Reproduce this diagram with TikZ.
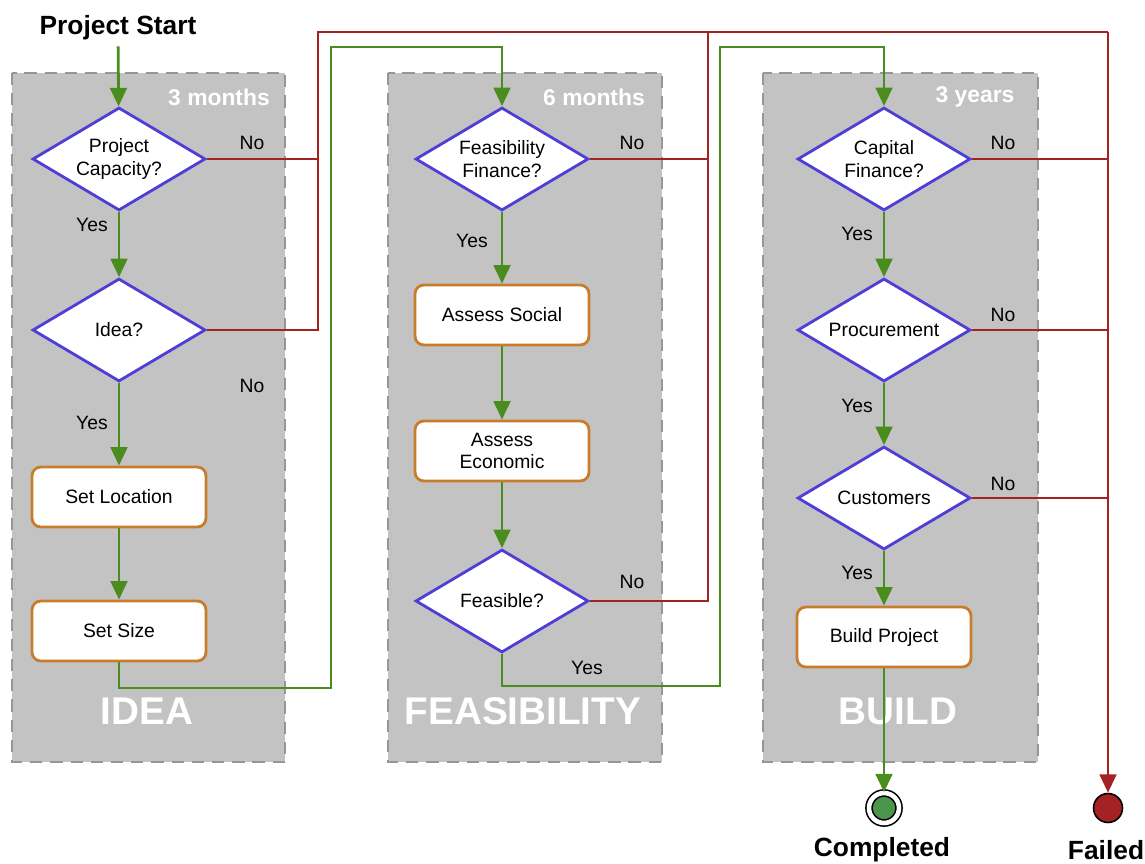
\documentclass[tikz,border=0pt]{standalone}
\usepackage{fontspec}
\setmainfont{Liberation Sans}
\usetikzlibrary{positioning, shapes.geometric, arrows.meta}

\definecolor{flowgreen}{RGB}{74,140,30}
\definecolor{flowred}{RGB}{165,34,34}
\definecolor{flowblue}{RGB}{78,62,215}
\definecolor{floworange}{RGB}{200,125,45}
\definecolor{stagegray}{RGB}{195,195,195}
\definecolor{dashgray}{RGB}{150,150,150}
\definecolor{donegreen}{RGB}{76,150,76}

\tikzset{
    decision/.style={diamond, draw=flowblue, line width=1.6pt, fill=white, aspect=1.68,
        minimum width=3.46cm, minimum height=2.06cm, inner sep=0pt, align=center,
        font=\fontsize{11}{13}\selectfont},
    task/.style={rectangle, rounded corners=5pt, draw=floworange, line width=1.6pt, fill=white,
        minimum width=3.48cm, minimum height=1.2cm, align=center, font=\fontsize{11}{13}\selectfont},
    yes/.style={draw=flowgreen, line width=1.6pt, -{Triangle[length=10.5pt,width=9.5pt]}},
    no/.style={draw=flowred, line width=1.6pt},
    lbl/.style={font=\fontsize{11}{13}\selectfont},
    stage/.style={fill=stagegray, draw=dashgray, line width=1.5pt, dash pattern=on 7pt off 4.5pt},
    stagetime/.style={text=white, font=\fontsize{13}{15}\bfseries},
    stagename/.style={text=white, font=\fontsize{22}{26}\bfseries},
    endlbl/.style={font=\fontsize{15}{18}\bfseries}
}

\begin{document}
\begin{tikzpicture}[x=0.02cm, y=-0.02cm]
    \useasboundingbox (0,0) rectangle (1145,864);

    % stages
    \draw[stage] (12,73) rectangle (285,762);
    \draw[stage] (388,73) rectangle (662,762);
    \draw[stage] (763,73) rectangle (1038,762);
    \node[stagetime] (ideatime) at (219,97) {3 months};
    \node[stagetime] (feastime) at (594,97) {6 months};
    \node[stagetime] (buildtime) at (975,97) {3 years};
    \node[stagename] (ideaname) at (147,711) {IDEA};
    \node[stagename] (feasname) at (523,711) {FEASIBILITY};
    \node[stagename] (buildname) at (898,711) {BUILD};

    % idea
    \node[endlbl] (start) at (118,28) {Project Start};
    \node[decision] (capacity) at (119,159) {Project\\Capacity?};
    \node[decision] (idea) at (119,330) {Idea?};
    \node[task] (location) at (119,497) {Set Location};
    \node[task] (size) at (119,631) {Set Size};

    % feasibility
    \node[decision] (feasfin) at (502,159) {Feasibility\\Finance?};
    \node[task] (social) at (502,315) {Assess Social};
    \node[task] (economic) at (502,451) {Assess\\Economic};
    \node[decision] (feasible) at (502,601) {Feasible?};

    % build
    \node[decision] (capfin) at (884,159) {Capital\\Finance?};
    \node[decision] (procure) at (884,330) {Procurement};
    \node[decision] (customers) at (884,498) {Customers};
    \node[task] (buildproj) at (884,637) {Build Project};

    % end states
    \node[circle, draw=black, line width=0.9pt, double=white, double distance=2.6pt,
        fill=donegreen, minimum size=0.6cm, inner sep=0pt] (done) at (884,808) {};
    \node[circle, draw=black, line width=0.9pt, fill=flowred, minimum size=0.58cm,
        inner sep=0pt] (fail) at (1108,808) {};
    \node[endlbl] (donelbl) at (882,850) {Completed};
    \node[endlbl] (faillbl) at (1106,850) {Failed};

    \coordinate (idealoop) at (331,688);
    \coordinate (ideatop) at (331,47);
    \coordinate (feasloop) at (720,686);
    \coordinate (feastop) at (720,47);
    \coordinate (redA) at (318,32);
    \coordinate (redB) at (708,32);
    \coordinate (redC) at (1108,32);

    % yes path
    \draw[yes] (start) -- (capacity);
    \draw[yes] (capacity) -- (idea);
    \draw[yes] (idea) -- (location);
    \draw[yes] (location) -- (size);
    \draw[yes] (size) |- (idealoop) -- (ideatop) -| (feasfin);
    \draw[yes] (feasfin) -- (social);
    \draw[yes] (social) -- (economic);
    \draw[yes] (economic) -- (feasible);
    \draw[yes] (feasible) |- (feasloop) -- (feastop) -| (capfin);
    \draw[yes] (capfin) -- (procure);
    \draw[yes] (procure) -- (customers);
    \draw[yes] (customers) -- (buildproj);
    \draw[yes] (buildproj) -- (done);

    % no path
    \draw[no] (capacity.east) -- (capacity.east -| redA);
    \draw[no] (idea.east) -| (redA) -- (redC);
    \draw[no] (feasfin.east) -- (feasfin.east -| redB);
    \draw[no] (feasible.east) -| (redB);
    \draw[no] (capfin.east) -- (capfin.east -| redC);
    \draw[no] (procure.east) -- (procure.east -| redC);
    \draw[no] (customers.east) -- (customers.east -| redC);
    \draw[no, -{Triangle[length=10.5pt,width=9.5pt]}] (redC) -- (fail);

    % labels
    \node[lbl] (yes1) at (92,225) {Yes};
    \node[lbl] (yes2) at (92,423) {Yes};
    \node[lbl] (yes3) at (472,241) {Yes};
    \node[lbl] (yes4) at (587,668) {Yes};
    \node[lbl] (yes5) at (857,234) {Yes};
    \node[lbl] (yes6) at (857,406) {Yes};
    \node[lbl] (yes7) at (857,573) {Yes};
    \node[lbl] (no1) at (252,143) {No};
    \node[lbl] (no2) at (252,386) {No};
    \node[lbl] (no3) at (632,143) {No};
    \node[lbl] (no4) at (632,582) {No};
    \node[lbl] (no5) at (1003,143) {No};
    \node[lbl] (no6) at (1003,315) {No};
    \node[lbl] (no7) at (1003,484) {No};
\end{tikzpicture}
\end{document}
